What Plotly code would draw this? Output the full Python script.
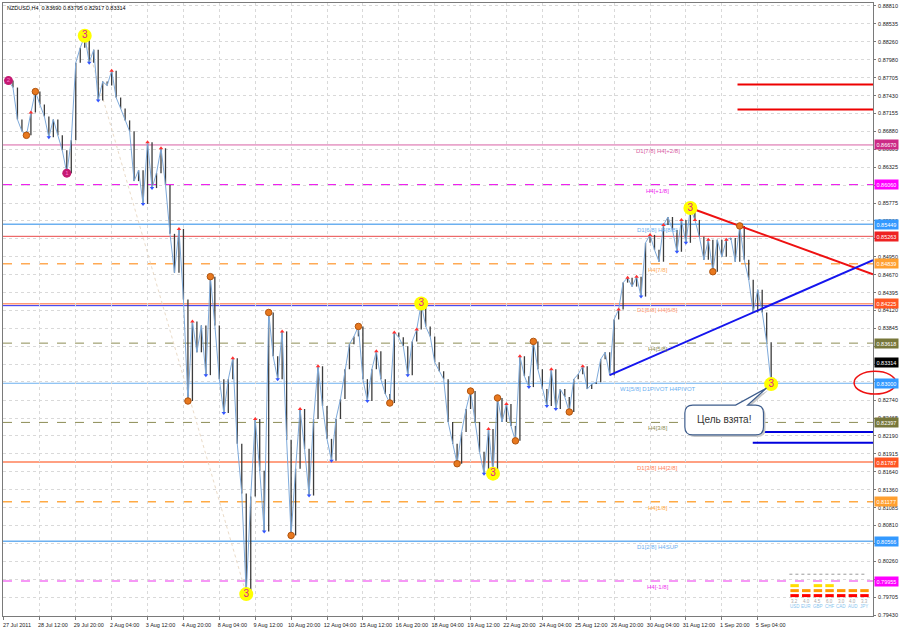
import plotly.graph_objects as go

# ---------------- data ----------------
header_text = "NZDUSD,H4  0.83690 0.83795 0.82917 0.83314"
last_price = 0.83314

closes = [0.87615, 0.87661, 0.87554, 0.87063, 0.86880, 0.86818, 0.87170, 0.87492, 0.87293, 0.87109,
          0.86787, 0.87063, 0.86818, 0.86588, 0.86236, 0.86741, 0.87937, 0.88167, 0.88351, 0.87937,
          0.88136, 0.87354, 0.87646, 0.87584, 0.87814, 0.87400, 0.87232, 0.87048, 0.86880, 0.86113,
          0.86282, 0.85761, 0.86711, 0.86006, 0.86236, 0.86619, 0.86052, 0.85301, 0.84703, 0.85377,
          0.84289, 0.82727, 0.83952, 0.83477, 0.83891, 0.83125, 0.84642, 0.83891, 0.83063, 0.82542,
          0.83063, 0.83385, 0.82067, 0.81301, 0.79753, 0.81255, 0.82450, 0.81654, 0.80718, 0.84090,
          0.83416, 0.83063, 0.83799, 0.82129, 0.80657, 0.81685, 0.82604, 0.81990, 0.81271, 0.82450,
          0.83262, 0.82650, 0.82144, 0.81807, 0.82450, 0.82758, 0.83216, 0.83600, 0.83722, 0.83875,
          0.83063, 0.82727, 0.83216, 0.83492, 0.83063, 0.82835, 0.82696, 0.83783, 0.83707, 0.83569,
          0.83125, 0.83645, 0.83829, 0.84228, 0.83875, 0.83722, 0.83324, 0.83186, 0.83063, 0.82404,
          0.82067, 0.81761, 0.82251, 0.82604, 0.82880, 0.82404, 0.81945, 0.81608, 0.82297, 0.81608,
          0.82774, 0.82404, 0.82681, 0.82343, 0.82113, 0.83416, 0.83109, 0.82941, 0.83645, 0.83216,
          0.82910, 0.82650, 0.83216, 0.82604, 0.82910, 0.82789, 0.82558, 0.83063, 0.83140, 0.83262,
          0.82910, 0.82987, 0.83017, 0.83370, 0.83477, 0.83125, 0.83983, 0.84136, 0.84550, 0.84626,
          0.84489, 0.84642, 0.84335, 0.85163, 0.85285, 0.85055, 0.84872, 0.85439, 0.85561, 0.85362,
          0.85025, 0.85515, 0.85163, 0.85699, 0.85515, 0.85255, 0.84902, 0.85209, 0.84718, 0.85209,
          0.84948, 0.85209, 0.85239, 0.84872, 0.85423, 0.84902, 0.84596, 0.84090, 0.84442, 0.84090,
          0.83630, 0.82987]

tick_labels = ["27 Jul 2011", "28 Jul 12:00", "29 Jul 20:00", "2 Aug 04:00", "3 Aug 12:00",
               "4 Aug 20:00", "8 Aug 04:00", "9 Aug 12:00", "10 Aug 20:00", "12 Aug 04:00",
               "15 Aug 12:00", "16 Aug 20:00", "18 Aug 04:00", "19 Aug 12:00", "22 Aug 20:00",
               "24 Aug 04:00", "25 Aug 12:00", "26 Aug 20:00", "30 Aug 04:00", "31 Aug 12:00",
               "1 Sep 20:00", "5 Sep 04:00"]
bars_per_label = 8

price_ticks = [0.88810, 0.88535, 0.88260, 0.87980, 0.87705, 0.87430, 0.87155, 0.86880, 0.86605,
               0.86325, 0.86050, 0.85775, 0.85500, 0.85225, 0.84950, 0.84670, 0.84395, 0.84120,
               0.83845, 0.83570, 0.83295, 0.83020, 0.82740, 0.82465, 0.82190, 0.81915, 0.81640,
               0.81360, 0.81085, 0.80810, 0.80535, 0.80260, 0.79985, 0.79705, 0.79430]

# Murrey / pivot levels
level_prices = [0.86670, 0.86060, 0.85449, 0.85263, 0.84839, 0.84225, 0.84195, 0.83618,
                0.83000, 0.82397, 0.81787, 0.81177, 0.80566, 0.79955]
level_texts = ["D1[7/8] H4[+2/8]", "H4[+1/8]", "D1[6/8] H4[8/8]", "", "H4[7/8]",
               "D1[5/8] H4[6/8]", "", "H4[5/8]", "W1[5/8] D1PIVOT H4PIVOT", "H4[3/8]",
               "D1[3/8] H4[2/8]", "H4[1/8]", "D1[2/8] H4SUP", "H4[-1/8]"]
level_colors = ["#d860a4", "#ee22ee", "#6cb0f0", "#e84848", "#ffaa55", "#ff9a78", "#2a2aee",
                "#8c8c55", "#6cb0f0", "#8c8c55", "#ff8058", "#ffaa44", "#6cb0f0", "#ee33ee"]
level_dashes = ["solid", "dash", "solid", "solid", "dash", "solid", "solid", "dash",
                "solid", "dash", "solid", "dash", "solid", "dash"]
level_widths = [1, 1.2, 1.5, 1, 1.5, 1.5, 1, 1, 1.2, 1, 1.5, 1.5, 1.5, 1.2]
level_boxes = [True, True, True, True, True, True, False, True, True, True, True, True, True, True]
box_colors = ["#cc2a86", "#ff00ff", "#3399ff", "#ee2222", "#ffa030", "#ff5522", "",
              "#77773a", "#3399ff", "#77773a", "#ff5522", "#ffa030", "#3399ff", "#ff00ff"]

# short target lines (price, first bar)
short_red_prices = [0.87600, 0.87216]
short_red_start = [163.5, 163.5]
short_blue_prices = [0.82251, 0.82083]
short_blue_start = [168.6, 166.9]

# trend lines through swing points (bar indices)
red_trend_bars = [153, 164]
blue_trend_bars = [135, 167]
faint_zigzag_bars = [18, 54]

# wave markers
yellow_bars = [18, 54, 93, 109, 153, 171]
yellow_texts = ["3", "3", "3", "3", "3", "3"]
purple_bars = [1, 14]
purple_texts = ["2", "1"]
orange_bars = [5, 7, 41, 46, 59, 64, 79, 86, 101, 104, 110, 114, 118, 126, 158, 164]
red_arrow_bars = [6, 24, 32, 35, 39, 42, 51, 56, 62, 66, 70, 83, 87, 92, 108, 112, 115, 122,
                  129, 137, 139, 141, 144, 147, 151, 154, 157, 161]
blue_arrow_bars = [10, 19, 21, 31, 33, 45, 49, 58, 61, 68, 73, 81, 90, 107, 117, 121, 123,
                   142, 150, 152]

callout_text = "Цель взята!"

widget_currencies = ["USD", "EUR", "GBP", "CHF", "CAD", "AUD", "JPY"]
widget_values = ["3.2", "4.0", "4.5", "6.0", "3.0", "4.0", "3.3"]
widget_rows = [3, 2, 3, 3, 2, 2, 2]

# ---------------- layout geometry ----------------
W, H = 900, 630
ML, MR, MT, MB = 2, 24, 2, 12
x_left, x_right = -0.22, 193.7
y_low, y_high = 0.79416, 0.88856
FONT = "Liberation Sans, Arial, sans-serif"


def px(x):
    return (x - ML) / (W - ML - MR)


def py(y):
    return (H - MB - y) / (H - MT - MB)


N = len(closes)
bars = list(range(N))

fig = go.Figure()
shapes = []
annotations = []

# levels
for p, t, c, d, w, hb, bc in zip(level_prices, level_texts, level_colors, level_dashes,
                                   level_widths, level_boxes, box_colors):
    shapes.append(dict(type="line", xref="paper", x0=0, x1=1, yref="y", y0=p, y1=p,
                       line=dict(color=c, width=w, dash=d), layer="below"))
    if t:
        annotations.append(dict(xref="paper", x=px(660), yref="y", y=p, text=t, showarrow=False,
                                xanchor="center", yanchor="top", yshift=-1,
                                font=dict(size=6, color=c, family=FONT)))
    if hb:
        annotations.append(dict(xref="paper", x=1, yref="y", y=p, text=f"{p:.5f}", showarrow=False,
                                xanchor="left", yanchor="middle", xshift=1, bgcolor=bc, borderpad=1.5,
                                font=dict(size=5.5, color="white", family=FONT)))

annotations.append(dict(xref="paper", x=1, yref="y", y=last_price, text=f"{last_price:.5f}",
                        showarrow=False, xanchor="left", yanchor="middle", xshift=1,
                        bgcolor="#000000", borderpad=1.5,
                        font=dict(size=5.5, color="white", family=FONT)))

for p, s in zip(short_red_prices, short_red_start):
    fig.add_trace(go.Scatter(x=[s, x_right], y=[p, p], mode="lines",
                             line=dict(color="#ee0000", width=2), hoverinfo="skip"))
for p, s in zip(short_blue_prices, short_blue_start):
    fig.add_trace(go.Scatter(x=[s, x_right], y=[p, p], mode="lines",
                             line=dict(color="#0000dd", width=2), hoverinfo="skip"))

# faint zigzag
fig.add_trace(go.Scatter(x=faint_zigzag_bars, y=[closes[b] for b in faint_zigzag_bars],
                         mode="lines", line=dict(color="#eadbc8", width=1, dash="dot"),
                         hoverinfo="skip"))

# bar segments
bx, by = [], []
for i in range(1, N):
    bx += [i, i, None]
    by += [closes[i - 1], closes[i], None]
fig.add_trace(go.Scatter(x=bx, y=by, mode="lines", line=dict(color="#3c3c3c", width=1.3),
                         hoverinfo="skip"))
# close line
fig.add_trace(go.Scatter(x=bars, y=closes, mode="lines", line=dict(color="#7eaadb", width=1)))

# trend lines extended to the right edge
for tb, col in [(red_trend_bars, "#ee1111"), (blue_trend_bars, "#1515ee")]:
    b0, b1 = tb
    slope = (closes[b1] - closes[b0]) / (b1 - b0)
    fig.add_trace(go.Scatter(x=[b0, x_right], y=[closes[b0], closes[b0] + slope * (x_right - b0)],
                             mode="lines", line=dict(color=col, width=2), hoverinfo="skip"))

# arrows
fig.add_trace(go.Scatter(x=red_arrow_bars, y=[closes[b] for b in red_arrow_bars], mode="markers",
                         marker=dict(symbol="triangle-up", size=4, color="#ff3030")))
fig.add_trace(go.Scatter(x=blue_arrow_bars, y=[closes[b] for b in blue_arrow_bars], mode="markers",
                         marker=dict(symbol="triangle-down", size=4, color="#3355ff")))
# orange points
fig.add_trace(go.Scatter(x=orange_bars, y=[closes[b] for b in orange_bars], mode="markers",
                         marker=dict(size=6.5, color="#e8781e", line=dict(color="#b05510", width=1))))
# purple points
fig.add_trace(go.Scatter(x=purple_bars, y=[closes[b] for b in purple_bars], mode="markers+text",
                         text=purple_texts, textposition="middle center",
                         textfont=dict(size=6, color="#ff77cc", family=FONT),
                         marker=dict(size=9, color="#c41a72")))
# yellow wave points
fig.add_trace(go.Scatter(x=yellow_bars, y=[closes[b] for b in yellow_bars], mode="markers+text",
                         text=yellow_texts, textposition="middle center",
                         textfont=dict(size=10, color="#e0208a", family=FONT),
                         marker=dict(size=14, color="#ffff00")))

# red ellipse around pivot label
shapes.append(dict(type="circle", xref="paper", yref="paper", x0=px(857), x1=px(899),
                   y0=py(395), y1=py(372), line=dict(color="#ee1111", width=1.5)))


def P(x, y):
    return f"{px(x):.5f},{py(y):.5f}"


def callout_path(dx=0, dy=0):
    pts = lambda x, y: P(x + dx, y + dy)
    return (f"M{pts(695,406)} L{pts(738,406)} L{pts(769,389)} L{pts(750,406)} L{pts(758,406)} "
            f"Q{pts(766,406)} {pts(766,414)} L{pts(766,428)} Q{pts(766,436)} {pts(758,436)} "
            f"L{pts(695,436)} Q{pts(687,436)} {pts(687,428)} L{pts(687,414)} "
            f"Q{pts(687,406)} {pts(695,406)} Z")


shapes.append(dict(type="path", xref="paper", yref="paper", path=callout_path(2, 2),
                   fillcolor="#c8c8c8", line=dict(width=0)))
shapes.append(dict(type="path", xref="paper", yref="paper", path=callout_path(),
                   fillcolor="white", line=dict(color="#3d5c8c", width=1.2)))
annotations.append(dict(xref="paper", yref="paper", x=px(726.5), y=py(421), text=callout_text,
                        showarrow=False, xanchor="center", yanchor="middle",
                        font=dict(size=10, color="#333333", family=FONT)))

# header
annotations.append(dict(xref="paper", yref="paper", x=px(4), y=py(7), text=header_text,
                        showarrow=False, xanchor="left", yanchor="middle",
                        font=dict(size=5.5, color="#000000", family=FONT)))

# currency widget
shapes.append(dict(type="line", xref="paper", yref="paper", x0=px(792), x1=px(870),
                   y0=py(576), y1=py(576), line=dict(color="#999999", width=1, dash="dot")))
row_colors = ["#ff0000", "#ff9900", "#ffdd00"]
row_y = [(596, 599), (591, 594), (586, 589)]
for i, (cur, val, nrow) in enumerate(zip(widget_currencies, widget_values, widget_rows)):
    x0 = 793 + i * 11.7
    for r in range(nrow):
        shapes.append(dict(type="rect", xref="paper", yref="paper", x0=px(x0), x1=px(x0 + 8.5),
                           y0=py(row_y[r][1]), y1=py(row_y[r][0]),
                           fillcolor=row_colors[r], line=dict(width=0)))
    annotations.append(dict(xref="paper", yref="paper", x=px(x0 + 4.2), y=py(603), text=val,
                            showarrow=False, xanchor="center", yanchor="middle",
                            font=dict(size=4.5, color="#aaaaaa", family=FONT)))
    annotations.append(dict(xref="paper", yref="paper", x=px(x0 + 4.2), y=py(608), text=cur,
                            showarrow=False, xanchor="center", yanchor="middle",
                            font=dict(size=4.5, color="#88c4ee", family=FONT)))

tickvals_x = [i * bars_per_label for i in range(len(tick_labels))]

fig.update_layout(
    width=W, height=H, margin=dict(l=ML, r=MR, t=MT, b=MB, pad=0),
    paper_bgcolor="white", plot_bgcolor="white", showlegend=False,
    shapes=shapes, annotations=annotations,
    font=dict(family=FONT, size=6, color="#111111"),
    xaxis=dict(range=[x_left, x_right], tickvals=tickvals_x, ticktext=tick_labels,
               showgrid=True, gridcolor="#d9d9d9", griddash="dot", gridwidth=1,
               showline=True, linecolor="#7a7a7a", mirror=True, ticks="outside", ticklen=3,
               tickcolor="#7a7a7a", tickfont=dict(size=5.5, color="#222222", family=FONT),
               ticklabelshift=13, zeroline=False),
    yaxis=dict(range=[y_low, y_high], side="right", tickvals=price_ticks,
               ticktext=[f"{v:.5f}" for v in price_ticks],
               showgrid=True, gridcolor="#d9d9d9", griddash="dot", gridwidth=1,
               showline=True, linecolor="#7a7a7a", mirror=True, ticks="outside", ticklen=2,
               tickcolor="#7a7a7a", tickfont=dict(size=5.5, color="#222222", family=FONT),
               ticklabelstandoff=1, zeroline=False),
)

fig.write_html("out.html", config={"displayModeBar": False},
               post_script="document.body.style.margin='0';document.body.style.overflow='hidden';")
